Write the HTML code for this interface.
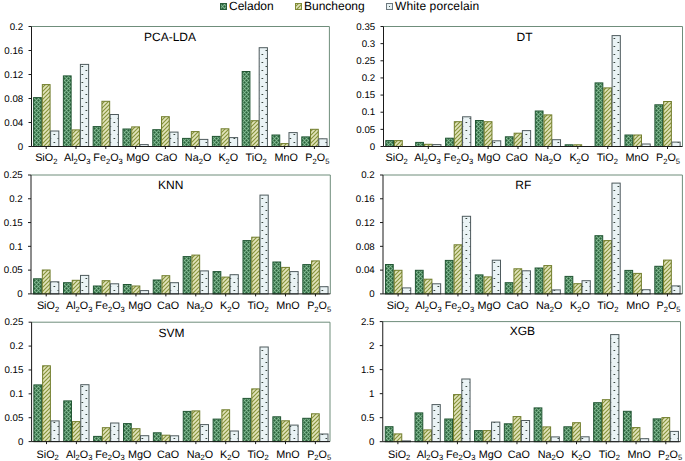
<!DOCTYPE html>
<html><head><meta charset="utf-8"><title>Chart</title>
<style>html,body{margin:0;padding:0;background:#fff;width:685px;height:461px;overflow:hidden}
svg{display:block;font-family:"Liberation Sans",sans-serif}</style></head>
<body>
<svg width="685" height="461" viewBox="0 0 685 461" font-family="Liberation Sans, sans-serif" text-rendering="geometricPrecision">

<defs>
 <pattern id="pc" patternUnits="userSpaceOnUse" width="4" height="4"><rect x="0" y="0" width="1" height="1" fill="#88c098"/><rect x="1" y="0" width="1" height="1" fill="#4e865f"/><rect x="2" y="0" width="1" height="1" fill="#29613a"/><rect x="3" y="0" width="1" height="1" fill="#4e865f"/><rect x="0" y="1" width="1" height="1" fill="#4e865f"/><rect x="1" y="1" width="1" height="1" fill="#74ac84"/><rect x="2" y="1" width="1" height="1" fill="#4e865f"/><rect x="3" y="1" width="1" height="1" fill="#74ac84"/><rect x="0" y="2" width="1" height="1" fill="#29613a"/><rect x="1" y="2" width="1" height="1" fill="#4e865f"/><rect x="2" y="2" width="1" height="1" fill="#88c098"/><rect x="3" y="2" width="1" height="1" fill="#4e865f"/><rect x="0" y="3" width="1" height="1" fill="#4e865f"/><rect x="1" y="3" width="1" height="1" fill="#74ac84"/><rect x="2" y="3" width="1" height="1" fill="#4e865f"/><rect x="3" y="3" width="1" height="1" fill="#74ac84"/></pattern>
 <pattern id="pb" patternUnits="userSpaceOnUse" width="4" height="4">
  <rect width="4" height="4" fill="#869339"/>
  <path d="M-1,1 L1,-1 M0,4 L4,0 M3,5 L5,3" stroke="#e2e4bc" stroke-width="1.7"/>
 </pattern>
 <pattern id="pw" patternUnits="userSpaceOnUse" width="8" height="8">
  <rect width="8" height="8" fill="#eaf3f5"/>
  <rect x="1.5" y="2" width="1.7" height="1" fill="#3a463f"/>
  <rect x="5.5" y="6" width="1.7" height="1" fill="#3a463f"/>
 </pattern>
</defs>

<rect width="685" height="461" fill="#ffffff"/>
<rect x="220.5" y="3.5" width="6" height="6" fill="url(#pc)" stroke="#2a5e3a" stroke-width="1"/>
<text x="229" y="9.6" font-size="12" fill="#000000">Celadon</text>
<rect x="295.5" y="3.5" width="6" height="6" fill="url(#pb)" stroke="#7f8a35" stroke-width="1"/>
<text x="304" y="9.6" font-size="12" fill="#000000">Buncheong</text>
<rect x="386.5" y="3.5" width="6" height="6" fill="#e7f1f3" stroke="#6d787e" stroke-width="1"/>
<rect x="389" y="6" width="1" height="1" fill="#4a5650"/>
<text x="395" y="9.6" font-size="12" letter-spacing="0.1" fill="#000000">White porcelain</text>
<path d="M31.5,26.5 H329.4 V146.5" fill="none" stroke="#6f8d7b" stroke-width="1"/>
<rect x="33.58" y="97.6" width="7.75" height="48.9" fill="url(#pc)" stroke="#225634" stroke-width="1"/>
<rect x="42.33" y="84.6" width="7.75" height="61.9" fill="url(#pb)" stroke="#717d2c" stroke-width="1"/>
<rect x="50.58" y="131" width="8.25" height="15.5" fill="url(#pw)" stroke="#4e5a5d" stroke-width="1"/>
<rect x="63.38" y="75.9" width="7.75" height="70.6" fill="url(#pc)" stroke="#225634" stroke-width="1"/>
<rect x="72.12" y="129.9" width="7.75" height="16.6" fill="url(#pb)" stroke="#717d2c" stroke-width="1"/>
<rect x="80.38" y="64.4" width="8.25" height="82.1" fill="url(#pw)" stroke="#4e5a5d" stroke-width="1"/>
<rect x="93.17" y="126.6" width="7.75" height="19.9" fill="url(#pc)" stroke="#225634" stroke-width="1"/>
<rect x="101.92" y="101.3" width="7.75" height="45.2" fill="url(#pb)" stroke="#717d2c" stroke-width="1"/>
<rect x="110.17" y="114.5" width="8.25" height="32" fill="url(#pw)" stroke="#4e5a5d" stroke-width="1"/>
<rect x="122.97" y="129" width="7.75" height="17.5" fill="url(#pc)" stroke="#225634" stroke-width="1"/>
<rect x="131.72" y="126.9" width="7.75" height="19.6" fill="url(#pb)" stroke="#717d2c" stroke-width="1"/>
<rect x="139.97" y="144.6" width="8.25" height="1.9" fill="url(#pw)" stroke="#4e5a5d" stroke-width="1"/>
<rect x="152.78" y="129.7" width="7.75" height="16.8" fill="url(#pc)" stroke="#225634" stroke-width="1"/>
<rect x="161.53" y="116.7" width="7.75" height="29.8" fill="url(#pb)" stroke="#717d2c" stroke-width="1"/>
<rect x="169.78" y="132.1" width="8.25" height="14.4" fill="url(#pw)" stroke="#4e5a5d" stroke-width="1"/>
<rect x="182.58" y="138.4" width="7.75" height="8.1" fill="url(#pc)" stroke="#225634" stroke-width="1"/>
<rect x="191.33" y="131.6" width="7.75" height="14.9" fill="url(#pb)" stroke="#717d2c" stroke-width="1"/>
<rect x="199.58" y="139.4" width="8.25" height="7.1" fill="url(#pw)" stroke="#4e5a5d" stroke-width="1"/>
<rect x="212.38" y="136.4" width="7.75" height="10.1" fill="url(#pc)" stroke="#225634" stroke-width="1"/>
<rect x="221.13" y="128.8" width="7.75" height="17.7" fill="url(#pb)" stroke="#717d2c" stroke-width="1"/>
<rect x="229.38" y="137.6" width="8.25" height="8.9" fill="url(#pw)" stroke="#4e5a5d" stroke-width="1"/>
<rect x="242.18" y="71.5" width="7.75" height="75" fill="url(#pc)" stroke="#225634" stroke-width="1"/>
<rect x="250.93" y="120.7" width="7.75" height="25.8" fill="url(#pb)" stroke="#717d2c" stroke-width="1"/>
<rect x="259.18" y="47.7" width="8.25" height="98.8" fill="url(#pw)" stroke="#4e5a5d" stroke-width="1"/>
<rect x="271.98" y="135" width="7.75" height="11.5" fill="url(#pc)" stroke="#225634" stroke-width="1"/>
<rect x="280.73" y="143.6" width="7.75" height="2.9" fill="url(#pb)" stroke="#717d2c" stroke-width="1"/>
<rect x="288.98" y="132.6" width="8.25" height="13.9" fill="url(#pw)" stroke="#4e5a5d" stroke-width="1"/>
<rect x="301.78" y="136.9" width="7.75" height="9.6" fill="url(#pc)" stroke="#225634" stroke-width="1"/>
<rect x="310.53" y="129.3" width="7.75" height="17.2" fill="url(#pb)" stroke="#717d2c" stroke-width="1"/>
<rect x="318.78" y="138.8" width="8.25" height="7.7" fill="url(#pw)" stroke="#4e5a5d" stroke-width="1"/>
<path d="M31.5,26.5 V146.5 H329.4" fill="none" stroke="#1a1a1a" stroke-width="1"/>
<path d="M28.5,146.5 H31.5" stroke="#1a1a1a" stroke-width="1"/>
<text transform="translate(23.2,149.7) scale(1,1)" font-size="9.7" text-anchor="end" fill="#000000">0</text>
<path d="M28.5,122.5 H31.5" stroke="#1a1a1a" stroke-width="1"/>
<text transform="translate(23.2,125.7) scale(1,1)" font-size="9.7" text-anchor="end" fill="#000000">0.04</text>
<path d="M28.5,98.5 H31.5" stroke="#1a1a1a" stroke-width="1"/>
<text transform="translate(23.2,101.7) scale(1,1)" font-size="9.7" text-anchor="end" fill="#000000">0.08</text>
<path d="M28.5,74.5 H31.5" stroke="#1a1a1a" stroke-width="1"/>
<text transform="translate(23.2,77.7) scale(1,1)" font-size="9.7" text-anchor="end" fill="#000000">0.12</text>
<path d="M28.5,50.5 H31.5" stroke="#1a1a1a" stroke-width="1"/>
<text transform="translate(23.2,53.7) scale(1,1)" font-size="9.7" text-anchor="end" fill="#000000">0.16</text>
<path d="M28.5,26.5 H31.5" stroke="#1a1a1a" stroke-width="1"/>
<text transform="translate(23.2,29.7) scale(1,1)" font-size="9.7" text-anchor="end" fill="#000000">0.2</text>
<path d="M46.2,146.5 V149" stroke="#1a1a1a" stroke-width="1"/>
<text x="46.3" y="160.9" font-size="10.8" text-anchor="middle" fill="#000000"><tspan>SiO</tspan><tspan font-size="7.6" dy="2.9">2</tspan><tspan dy="-2.9"></tspan></text>
<path d="M76,146.5 V149" stroke="#1a1a1a" stroke-width="1"/>
<text x="77.25" y="160.9" font-size="10.8" text-anchor="middle" fill="#000000"><tspan>Al</tspan><tspan font-size="7.6" dy="2.9">2</tspan><tspan dy="-2.9">O</tspan><tspan font-size="7.6" dy="2.9">3</tspan></text>
<path d="M105.8,146.5 V149" stroke="#1a1a1a" stroke-width="1"/>
<text x="108.1" y="160.9" font-size="10.8" text-anchor="middle" fill="#000000"><tspan>Fe</tspan><tspan font-size="7.6" dy="2.9">2</tspan><tspan dy="-2.9">O</tspan><tspan font-size="7.6" dy="2.9">3</tspan></text>
<path d="M135.6,146.5 V149" stroke="#1a1a1a" stroke-width="1"/>
<text x="137.9" y="160.9" font-size="10.8" text-anchor="middle" fill="#000000"><tspan>MgO</tspan></text>
<path d="M165.4,146.5 V149" stroke="#1a1a1a" stroke-width="1"/>
<text x="166.3" y="160.9" font-size="10.8" text-anchor="middle" fill="#000000"><tspan>CaO</tspan></text>
<path d="M195.2,146.5 V149" stroke="#1a1a1a" stroke-width="1"/>
<text x="198.1" y="160.9" font-size="10.8" text-anchor="middle" fill="#000000"><tspan>Na</tspan><tspan font-size="7.6" dy="2.9">2</tspan><tspan dy="-2.9">O</tspan></text>
<path d="M225,146.5 V149" stroke="#1a1a1a" stroke-width="1"/>
<text x="228.3" y="160.9" font-size="10.8" text-anchor="middle" fill="#000000"><tspan>K</tspan><tspan font-size="7.6" dy="2.9">2</tspan><tspan dy="-2.9">O</tspan></text>
<path d="M254.8,146.5 V149" stroke="#1a1a1a" stroke-width="1"/>
<text x="256.2" y="160.9" font-size="10.8" text-anchor="middle" fill="#000000"><tspan>TiO</tspan><tspan font-size="7.6" dy="2.9">2</tspan></text>
<path d="M284.6,146.5 V149" stroke="#1a1a1a" stroke-width="1"/>
<text x="286.3" y="160.9" font-size="10.8" text-anchor="middle" fill="#000000"><tspan>MnO</tspan></text>
<path d="M314.4,146.5 V149" stroke="#1a1a1a" stroke-width="1"/>
<text x="317.4" y="160.9" font-size="10.8" text-anchor="middle" fill="#000000"><tspan>P</tspan><tspan font-size="7.6" dy="2.9">2</tspan><tspan dy="-2.9">O</tspan><tspan font-size="7.6" dy="2.9">5</tspan></text>
<text x="170" y="40.8" font-size="12" text-anchor="middle" fill="#000000">PCA-LDA</text>
<path d="M383.5,26.5 H682.5 V146.5" fill="none" stroke="#6f8d7b" stroke-width="1"/>
<rect x="385.77" y="140.6" width="7.75" height="5.9" fill="url(#pc)" stroke="#225634" stroke-width="1"/>
<rect x="394.52" y="140.6" width="7.75" height="5.9" fill="url(#pb)" stroke="#717d2c" stroke-width="1"/>
<rect x="415.68" y="142.4" width="7.75" height="4.1" fill="url(#pc)" stroke="#225634" stroke-width="1"/>
<rect x="424.43" y="144.3" width="7.75" height="2.2" fill="url(#pb)" stroke="#717d2c" stroke-width="1"/>
<rect x="432.68" y="144.6" width="8.25" height="1.9" fill="url(#pw)" stroke="#4e5a5d" stroke-width="1"/>
<rect x="445.57" y="138.2" width="7.75" height="8.3" fill="url(#pc)" stroke="#225634" stroke-width="1"/>
<rect x="454.32" y="121.7" width="7.75" height="24.8" fill="url(#pb)" stroke="#717d2c" stroke-width="1"/>
<rect x="462.57" y="116.8" width="8.25" height="29.7" fill="url(#pw)" stroke="#4e5a5d" stroke-width="1"/>
<rect x="475.48" y="120.5" width="7.75" height="26" fill="url(#pc)" stroke="#225634" stroke-width="1"/>
<rect x="484.23" y="121.7" width="7.75" height="24.8" fill="url(#pb)" stroke="#717d2c" stroke-width="1"/>
<rect x="492.48" y="140.8" width="8.25" height="5.7" fill="url(#pw)" stroke="#4e5a5d" stroke-width="1"/>
<rect x="505.38" y="136.8" width="7.75" height="9.7" fill="url(#pc)" stroke="#225634" stroke-width="1"/>
<rect x="514.12" y="133.2" width="7.75" height="13.3" fill="url(#pb)" stroke="#717d2c" stroke-width="1"/>
<rect x="522.38" y="130.6" width="8.25" height="15.9" fill="url(#pw)" stroke="#4e5a5d" stroke-width="1"/>
<rect x="535.28" y="111" width="7.75" height="35.5" fill="url(#pc)" stroke="#225634" stroke-width="1"/>
<rect x="544.03" y="114.9" width="7.75" height="31.6" fill="url(#pb)" stroke="#717d2c" stroke-width="1"/>
<rect x="552.28" y="139.7" width="8.25" height="6.8" fill="url(#pw)" stroke="#4e5a5d" stroke-width="1"/>
<rect x="565.17" y="144.8" width="7.75" height="1.7" fill="url(#pc)" stroke="#225634" stroke-width="1"/>
<rect x="573.92" y="144.8" width="7.75" height="1.7" fill="url(#pb)" stroke="#717d2c" stroke-width="1"/>
<rect x="595.08" y="82.9" width="7.75" height="63.6" fill="url(#pc)" stroke="#225634" stroke-width="1"/>
<rect x="603.83" y="87.9" width="7.75" height="58.6" fill="url(#pb)" stroke="#717d2c" stroke-width="1"/>
<rect x="612.08" y="35.6" width="8.25" height="110.9" fill="url(#pw)" stroke="#4e5a5d" stroke-width="1"/>
<rect x="624.98" y="135" width="7.75" height="11.5" fill="url(#pc)" stroke="#225634" stroke-width="1"/>
<rect x="633.73" y="135" width="7.75" height="11.5" fill="url(#pb)" stroke="#717d2c" stroke-width="1"/>
<rect x="641.98" y="144" width="8.25" height="2.5" fill="url(#pw)" stroke="#4e5a5d" stroke-width="1"/>
<rect x="654.88" y="104.8" width="7.75" height="41.7" fill="url(#pc)" stroke="#225634" stroke-width="1"/>
<rect x="663.62" y="101.5" width="7.75" height="45" fill="url(#pb)" stroke="#717d2c" stroke-width="1"/>
<rect x="671.88" y="142.1" width="8.25" height="4.4" fill="url(#pw)" stroke="#4e5a5d" stroke-width="1"/>
<path d="M383.5,26.5 V146.5 H682.5" fill="none" stroke="#1a1a1a" stroke-width="1"/>
<path d="M380.5,146.5 H383.5" stroke="#1a1a1a" stroke-width="1"/>
<text transform="translate(375.2,149.7) scale(1,1)" font-size="9.7" text-anchor="end" fill="#000000">0</text>
<path d="M380.5,129.36 H383.5" stroke="#1a1a1a" stroke-width="1"/>
<text transform="translate(375.2,132.56) scale(1,1)" font-size="9.7" text-anchor="end" fill="#000000">0.05</text>
<path d="M380.5,112.21 H383.5" stroke="#1a1a1a" stroke-width="1"/>
<text transform="translate(375.2,115.41) scale(1,1)" font-size="9.7" text-anchor="end" fill="#000000">0.1</text>
<path d="M380.5,95.07 H383.5" stroke="#1a1a1a" stroke-width="1"/>
<text transform="translate(375.2,98.27) scale(1,1)" font-size="9.7" text-anchor="end" fill="#000000">0.15</text>
<path d="M380.5,77.93 H383.5" stroke="#1a1a1a" stroke-width="1"/>
<text transform="translate(375.2,81.13) scale(1,1)" font-size="9.7" text-anchor="end" fill="#000000">0.2</text>
<path d="M380.5,60.79 H383.5" stroke="#1a1a1a" stroke-width="1"/>
<text transform="translate(375.2,63.99) scale(1,1)" font-size="9.7" text-anchor="end" fill="#000000">0.25</text>
<path d="M380.5,43.64 H383.5" stroke="#1a1a1a" stroke-width="1"/>
<text transform="translate(375.2,46.84) scale(1,1)" font-size="9.7" text-anchor="end" fill="#000000">0.3</text>
<path d="M380.5,26.5 H383.5" stroke="#1a1a1a" stroke-width="1"/>
<text transform="translate(375.2,29.7) scale(1,1)" font-size="9.7" text-anchor="end" fill="#000000">0.35</text>
<path d="M398.4,146.5 V149" stroke="#1a1a1a" stroke-width="1"/>
<text x="396.7" y="160.9" font-size="10.8" text-anchor="middle" fill="#000000"><tspan>SiO</tspan><tspan font-size="7.6" dy="2.9">2</tspan><tspan dy="-2.9"></tspan></text>
<path d="M428.3,146.5 V149" stroke="#1a1a1a" stroke-width="1"/>
<text x="427.5" y="160.9" font-size="10.8" text-anchor="middle" fill="#000000"><tspan>Al</tspan><tspan font-size="7.6" dy="2.9">2</tspan><tspan dy="-2.9">O</tspan><tspan font-size="7.6" dy="2.9">3</tspan></text>
<path d="M458.2,146.5 V149" stroke="#1a1a1a" stroke-width="1"/>
<text x="458.6" y="160.9" font-size="10.8" text-anchor="middle" fill="#000000"><tspan>Fe</tspan><tspan font-size="7.6" dy="2.9">2</tspan><tspan dy="-2.9">O</tspan><tspan font-size="7.6" dy="2.9">3</tspan></text>
<path d="M488.1,146.5 V149" stroke="#1a1a1a" stroke-width="1"/>
<text x="489.05" y="160.9" font-size="10.8" text-anchor="middle" fill="#000000"><tspan>MgO</tspan></text>
<path d="M518,146.5 V149" stroke="#1a1a1a" stroke-width="1"/>
<text x="516.9" y="160.9" font-size="10.8" text-anchor="middle" fill="#000000"><tspan>CaO</tspan></text>
<path d="M547.9,146.5 V149" stroke="#1a1a1a" stroke-width="1"/>
<text x="548.1" y="160.9" font-size="10.8" text-anchor="middle" fill="#000000"><tspan>Na</tspan><tspan font-size="7.6" dy="2.9">2</tspan><tspan dy="-2.9">O</tspan></text>
<path d="M577.8,146.5 V149" stroke="#1a1a1a" stroke-width="1"/>
<text x="579.3" y="160.9" font-size="10.8" text-anchor="middle" fill="#000000"><tspan>K</tspan><tspan font-size="7.6" dy="2.9">2</tspan><tspan dy="-2.9">O</tspan></text>
<path d="M607.7,146.5 V149" stroke="#1a1a1a" stroke-width="1"/>
<text x="607.3" y="160.9" font-size="10.8" text-anchor="middle" fill="#000000"><tspan>TiO</tspan><tspan font-size="7.6" dy="2.9">2</tspan></text>
<path d="M637.6,146.5 V149" stroke="#1a1a1a" stroke-width="1"/>
<text x="637.2" y="160.9" font-size="10.8" text-anchor="middle" fill="#000000"><tspan>MnO</tspan></text>
<path d="M667.5,146.5 V149" stroke="#1a1a1a" stroke-width="1"/>
<text x="668" y="160.9" font-size="10.8" text-anchor="middle" fill="#000000"><tspan>P</tspan><tspan font-size="7.6" dy="2.9">2</tspan><tspan dy="-2.9">O</tspan><tspan font-size="7.6" dy="2.9">5</tspan></text>
<text x="524.5" y="40.8" font-size="12" text-anchor="middle" fill="#000000">DT</text>
<path d="M31,175 H330.3 V293.9" fill="none" stroke="#6f8d7b" stroke-width="1"/>
<rect x="33.58" y="278.8" width="7.75" height="15.1" fill="url(#pc)" stroke="#225634" stroke-width="1"/>
<rect x="42.33" y="270" width="7.75" height="23.9" fill="url(#pb)" stroke="#717d2c" stroke-width="1"/>
<rect x="50.58" y="281.8" width="8.25" height="12.1" fill="url(#pw)" stroke="#4e5a5d" stroke-width="1"/>
<rect x="63.5" y="282.7" width="7.75" height="11.2" fill="url(#pc)" stroke="#225634" stroke-width="1"/>
<rect x="72.25" y="280.3" width="7.75" height="13.6" fill="url(#pb)" stroke="#717d2c" stroke-width="1"/>
<rect x="80.5" y="275.4" width="8.25" height="18.5" fill="url(#pw)" stroke="#4e5a5d" stroke-width="1"/>
<rect x="93.41" y="286" width="7.75" height="7.9" fill="url(#pc)" stroke="#225634" stroke-width="1"/>
<rect x="102.16" y="280.7" width="7.75" height="13.2" fill="url(#pb)" stroke="#717d2c" stroke-width="1"/>
<rect x="110.41" y="283.8" width="8.25" height="10.1" fill="url(#pw)" stroke="#4e5a5d" stroke-width="1"/>
<rect x="123.33" y="284.5" width="7.75" height="9.4" fill="url(#pc)" stroke="#225634" stroke-width="1"/>
<rect x="132.08" y="286" width="7.75" height="7.9" fill="url(#pb)" stroke="#717d2c" stroke-width="1"/>
<rect x="140.33" y="290.6" width="8.25" height="3.3" fill="url(#pw)" stroke="#4e5a5d" stroke-width="1"/>
<rect x="153.24" y="280" width="7.75" height="13.9" fill="url(#pc)" stroke="#225634" stroke-width="1"/>
<rect x="161.99" y="275.7" width="7.75" height="18.2" fill="url(#pb)" stroke="#717d2c" stroke-width="1"/>
<rect x="170.24" y="282.7" width="8.25" height="11.2" fill="url(#pw)" stroke="#4e5a5d" stroke-width="1"/>
<rect x="183.16" y="256.6" width="7.75" height="37.3" fill="url(#pc)" stroke="#225634" stroke-width="1"/>
<rect x="191.91" y="255.1" width="7.75" height="38.8" fill="url(#pb)" stroke="#717d2c" stroke-width="1"/>
<rect x="200.16" y="270.9" width="8.25" height="23" fill="url(#pw)" stroke="#4e5a5d" stroke-width="1"/>
<rect x="213.07" y="271.6" width="7.75" height="22.3" fill="url(#pc)" stroke="#225634" stroke-width="1"/>
<rect x="221.82" y="277.1" width="7.75" height="16.8" fill="url(#pb)" stroke="#717d2c" stroke-width="1"/>
<rect x="230.07" y="274.7" width="8.25" height="19.2" fill="url(#pw)" stroke="#4e5a5d" stroke-width="1"/>
<rect x="242.99" y="240.6" width="7.75" height="53.3" fill="url(#pc)" stroke="#225634" stroke-width="1"/>
<rect x="251.74" y="237.2" width="7.75" height="56.7" fill="url(#pb)" stroke="#717d2c" stroke-width="1"/>
<rect x="259.99" y="195.1" width="8.25" height="98.8" fill="url(#pw)" stroke="#4e5a5d" stroke-width="1"/>
<rect x="272.9" y="262" width="7.75" height="31.9" fill="url(#pc)" stroke="#225634" stroke-width="1"/>
<rect x="281.65" y="267.4" width="7.75" height="26.5" fill="url(#pb)" stroke="#717d2c" stroke-width="1"/>
<rect x="289.9" y="271.6" width="8.25" height="22.3" fill="url(#pw)" stroke="#4e5a5d" stroke-width="1"/>
<rect x="302.82" y="264.6" width="7.75" height="29.3" fill="url(#pc)" stroke="#225634" stroke-width="1"/>
<rect x="311.57" y="260.9" width="7.75" height="33" fill="url(#pb)" stroke="#717d2c" stroke-width="1"/>
<rect x="319.82" y="286.7" width="8.25" height="7.2" fill="url(#pw)" stroke="#4e5a5d" stroke-width="1"/>
<path d="M31,175 V293.9 H330.3" fill="none" stroke="#1a1a1a" stroke-width="1"/>
<path d="M28,293.9 H31" stroke="#1a1a1a" stroke-width="1"/>
<text transform="translate(22.7,297.1) scale(1,1)" font-size="9.7" text-anchor="end" fill="#000000">0</text>
<path d="M28,270.12 H31" stroke="#1a1a1a" stroke-width="1"/>
<text transform="translate(22.7,273.32) scale(1,1)" font-size="9.7" text-anchor="end" fill="#000000">0.05</text>
<path d="M28,246.34 H31" stroke="#1a1a1a" stroke-width="1"/>
<text transform="translate(22.7,249.54) scale(1,1)" font-size="9.7" text-anchor="end" fill="#000000">0.1</text>
<path d="M28,222.56 H31" stroke="#1a1a1a" stroke-width="1"/>
<text transform="translate(22.7,225.76) scale(1,1)" font-size="9.7" text-anchor="end" fill="#000000">0.15</text>
<path d="M28,198.78 H31" stroke="#1a1a1a" stroke-width="1"/>
<text transform="translate(22.7,201.98) scale(1,1)" font-size="9.7" text-anchor="end" fill="#000000">0.2</text>
<path d="M28,175 H31" stroke="#1a1a1a" stroke-width="1"/>
<text transform="translate(22.7,178.2) scale(1,1)" font-size="9.7" text-anchor="end" fill="#000000">0.25</text>
<path d="M46.21,293.9 V296.4" stroke="#1a1a1a" stroke-width="1"/>
<text x="48" y="308.9" font-size="10.8" text-anchor="middle" fill="#000000"><tspan>SiO</tspan><tspan font-size="7.6" dy="2.9">2</tspan><tspan dy="-2.9"></tspan></text>
<path d="M76.12,293.9 V296.4" stroke="#1a1a1a" stroke-width="1"/>
<text x="79.25" y="308.9" font-size="10.8" text-anchor="middle" fill="#000000"><tspan>Al</tspan><tspan font-size="7.6" dy="2.9">2</tspan><tspan dy="-2.9">O</tspan><tspan font-size="7.6" dy="2.9">3</tspan></text>
<path d="M106.04,293.9 V296.4" stroke="#1a1a1a" stroke-width="1"/>
<text x="110.1" y="308.9" font-size="10.8" text-anchor="middle" fill="#000000"><tspan>Fe</tspan><tspan font-size="7.6" dy="2.9">2</tspan><tspan dy="-2.9">O</tspan><tspan font-size="7.6" dy="2.9">3</tspan></text>
<path d="M135.95,293.9 V296.4" stroke="#1a1a1a" stroke-width="1"/>
<text x="139.9" y="308.9" font-size="10.8" text-anchor="middle" fill="#000000"><tspan>MgO</tspan></text>
<path d="M165.87,293.9 V296.4" stroke="#1a1a1a" stroke-width="1"/>
<text x="168" y="308.9" font-size="10.8" text-anchor="middle" fill="#000000"><tspan>CaO</tspan></text>
<path d="M195.78,293.9 V296.4" stroke="#1a1a1a" stroke-width="1"/>
<text x="199.7" y="308.9" font-size="10.8" text-anchor="middle" fill="#000000"><tspan>Na</tspan><tspan font-size="7.6" dy="2.9">2</tspan><tspan dy="-2.9">O</tspan></text>
<path d="M225.7,293.9 V296.4" stroke="#1a1a1a" stroke-width="1"/>
<text x="229.95" y="308.9" font-size="10.8" text-anchor="middle" fill="#000000"><tspan>K</tspan><tspan font-size="7.6" dy="2.9">2</tspan><tspan dy="-2.9">O</tspan></text>
<path d="M255.61,293.9 V296.4" stroke="#1a1a1a" stroke-width="1"/>
<text x="258" y="308.9" font-size="10.8" text-anchor="middle" fill="#000000"><tspan>TiO</tspan><tspan font-size="7.6" dy="2.9">2</tspan></text>
<path d="M285.53,293.9 V296.4" stroke="#1a1a1a" stroke-width="1"/>
<text x="288" y="308.9" font-size="10.8" text-anchor="middle" fill="#000000"><tspan>MnO</tspan></text>
<path d="M315.44,293.9 V296.4" stroke="#1a1a1a" stroke-width="1"/>
<text x="319.2" y="308.9" font-size="10.8" text-anchor="middle" fill="#000000"><tspan>P</tspan><tspan font-size="7.6" dy="2.9">2</tspan><tspan dy="-2.9">O</tspan><tspan font-size="7.6" dy="2.9">5</tspan></text>
<text x="170.7" y="188.5" font-size="12" text-anchor="middle" fill="#000000">KNN</text>
<path d="M383,175 H682.4 V293.9" fill="none" stroke="#6f8d7b" stroke-width="1"/>
<rect x="385.49" y="264.5" width="7.75" height="29.4" fill="url(#pc)" stroke="#225634" stroke-width="1"/>
<rect x="394.24" y="270.3" width="7.75" height="23.6" fill="url(#pb)" stroke="#717d2c" stroke-width="1"/>
<rect x="402.49" y="287.9" width="8.25" height="6" fill="url(#pw)" stroke="#4e5a5d" stroke-width="1"/>
<rect x="415.41" y="270.3" width="7.75" height="23.6" fill="url(#pc)" stroke="#225634" stroke-width="1"/>
<rect x="424.16" y="279.2" width="7.75" height="14.7" fill="url(#pb)" stroke="#717d2c" stroke-width="1"/>
<rect x="432.41" y="283.8" width="8.25" height="10.1" fill="url(#pw)" stroke="#4e5a5d" stroke-width="1"/>
<rect x="445.34" y="260.4" width="7.75" height="33.5" fill="url(#pc)" stroke="#225634" stroke-width="1"/>
<rect x="454.09" y="244.8" width="7.75" height="49.1" fill="url(#pb)" stroke="#717d2c" stroke-width="1"/>
<rect x="462.34" y="216.3" width="8.25" height="77.6" fill="url(#pw)" stroke="#4e5a5d" stroke-width="1"/>
<rect x="475.26" y="274.9" width="7.75" height="19" fill="url(#pc)" stroke="#225634" stroke-width="1"/>
<rect x="484.01" y="276.9" width="7.75" height="17" fill="url(#pb)" stroke="#717d2c" stroke-width="1"/>
<rect x="492.26" y="260.2" width="8.25" height="33.7" fill="url(#pw)" stroke="#4e5a5d" stroke-width="1"/>
<rect x="505.19" y="282.7" width="7.75" height="11.2" fill="url(#pc)" stroke="#225634" stroke-width="1"/>
<rect x="513.94" y="268.8" width="7.75" height="25.1" fill="url(#pb)" stroke="#717d2c" stroke-width="1"/>
<rect x="522.19" y="270.8" width="8.25" height="23.1" fill="url(#pw)" stroke="#4e5a5d" stroke-width="1"/>
<rect x="535.11" y="268" width="7.75" height="25.9" fill="url(#pc)" stroke="#225634" stroke-width="1"/>
<rect x="543.86" y="265.6" width="7.75" height="28.3" fill="url(#pb)" stroke="#717d2c" stroke-width="1"/>
<rect x="552.11" y="289.9" width="8.25" height="4" fill="url(#pw)" stroke="#4e5a5d" stroke-width="1"/>
<rect x="565.04" y="276.4" width="7.75" height="17.5" fill="url(#pc)" stroke="#225634" stroke-width="1"/>
<rect x="573.79" y="283.7" width="7.75" height="10.2" fill="url(#pb)" stroke="#717d2c" stroke-width="1"/>
<rect x="582.04" y="280.7" width="8.25" height="13.2" fill="url(#pw)" stroke="#4e5a5d" stroke-width="1"/>
<rect x="594.96" y="235.7" width="7.75" height="58.2" fill="url(#pc)" stroke="#225634" stroke-width="1"/>
<rect x="603.71" y="240.6" width="7.75" height="53.3" fill="url(#pb)" stroke="#717d2c" stroke-width="1"/>
<rect x="611.96" y="183.1" width="8.25" height="110.8" fill="url(#pw)" stroke="#4e5a5d" stroke-width="1"/>
<rect x="624.89" y="270.4" width="7.75" height="23.5" fill="url(#pc)" stroke="#225634" stroke-width="1"/>
<rect x="633.64" y="273.4" width="7.75" height="20.5" fill="url(#pb)" stroke="#717d2c" stroke-width="1"/>
<rect x="641.89" y="289.7" width="8.25" height="4.2" fill="url(#pw)" stroke="#4e5a5d" stroke-width="1"/>
<rect x="654.81" y="266.3" width="7.75" height="27.6" fill="url(#pc)" stroke="#225634" stroke-width="1"/>
<rect x="663.56" y="260.1" width="7.75" height="33.8" fill="url(#pb)" stroke="#717d2c" stroke-width="1"/>
<rect x="671.81" y="285.9" width="8.25" height="8" fill="url(#pw)" stroke="#4e5a5d" stroke-width="1"/>
<path d="M383,175 V293.9 H682.4" fill="none" stroke="#1a1a1a" stroke-width="1"/>
<path d="M380,293.9 H383" stroke="#1a1a1a" stroke-width="1"/>
<text transform="translate(374.7,297.1) scale(1,1)" font-size="9.7" text-anchor="end" fill="#000000">0</text>
<path d="M380,270.12 H383" stroke="#1a1a1a" stroke-width="1"/>
<text transform="translate(374.7,273.32) scale(1,1)" font-size="9.7" text-anchor="end" fill="#000000">0.04</text>
<path d="M380,246.34 H383" stroke="#1a1a1a" stroke-width="1"/>
<text transform="translate(374.7,249.54) scale(1,1)" font-size="9.7" text-anchor="end" fill="#000000">0.08</text>
<path d="M380,222.56 H383" stroke="#1a1a1a" stroke-width="1"/>
<text transform="translate(374.7,225.76) scale(1,1)" font-size="9.7" text-anchor="end" fill="#000000">0.12</text>
<path d="M380,198.78 H383" stroke="#1a1a1a" stroke-width="1"/>
<text transform="translate(374.7,201.98) scale(1,1)" font-size="9.7" text-anchor="end" fill="#000000">0.16</text>
<path d="M380,175 H383" stroke="#1a1a1a" stroke-width="1"/>
<text transform="translate(374.7,178.2) scale(1,1)" font-size="9.7" text-anchor="end" fill="#000000">0.2</text>
<path d="M398.11,293.9 V296.4" stroke="#1a1a1a" stroke-width="1"/>
<text x="397.85" y="308.9" font-size="10.8" text-anchor="middle" fill="#000000"><tspan>SiO</tspan><tspan font-size="7.6" dy="2.9">2</tspan><tspan dy="-2.9"></tspan></text>
<path d="M428.04,293.9 V296.4" stroke="#1a1a1a" stroke-width="1"/>
<text x="428.5" y="308.9" font-size="10.8" text-anchor="middle" fill="#000000"><tspan>Al</tspan><tspan font-size="7.6" dy="2.9">2</tspan><tspan dy="-2.9">O</tspan><tspan font-size="7.6" dy="2.9">3</tspan></text>
<path d="M457.96,293.9 V296.4" stroke="#1a1a1a" stroke-width="1"/>
<text x="459.4" y="308.9" font-size="10.8" text-anchor="middle" fill="#000000"><tspan>Fe</tspan><tspan font-size="7.6" dy="2.9">2</tspan><tspan dy="-2.9">O</tspan><tspan font-size="7.6" dy="2.9">3</tspan></text>
<path d="M487.89,293.9 V296.4" stroke="#1a1a1a" stroke-width="1"/>
<text x="489.25" y="308.9" font-size="10.8" text-anchor="middle" fill="#000000"><tspan>MgO</tspan></text>
<path d="M517.81,293.9 V296.4" stroke="#1a1a1a" stroke-width="1"/>
<text x="517.6" y="308.9" font-size="10.8" text-anchor="middle" fill="#000000"><tspan>CaO</tspan></text>
<path d="M547.74,293.9 V296.4" stroke="#1a1a1a" stroke-width="1"/>
<text x="549.25" y="308.9" font-size="10.8" text-anchor="middle" fill="#000000"><tspan>Na</tspan><tspan font-size="7.6" dy="2.9">2</tspan><tspan dy="-2.9">O</tspan></text>
<path d="M577.66,293.9 V296.4" stroke="#1a1a1a" stroke-width="1"/>
<text x="580" y="308.9" font-size="10.8" text-anchor="middle" fill="#000000"><tspan>K</tspan><tspan font-size="7.6" dy="2.9">2</tspan><tspan dy="-2.9">O</tspan></text>
<path d="M607.59,293.9 V296.4" stroke="#1a1a1a" stroke-width="1"/>
<text x="607.85" y="308.9" font-size="10.8" text-anchor="middle" fill="#000000"><tspan>TiO</tspan><tspan font-size="7.6" dy="2.9">2</tspan></text>
<path d="M637.51,293.9 V296.4" stroke="#1a1a1a" stroke-width="1"/>
<text x="637.85" y="308.9" font-size="10.8" text-anchor="middle" fill="#000000"><tspan>MnO</tspan></text>
<path d="M667.44,293.9 V296.4" stroke="#1a1a1a" stroke-width="1"/>
<text x="668.5" y="308.9" font-size="10.8" text-anchor="middle" fill="#000000"><tspan>P</tspan><tspan font-size="7.6" dy="2.9">2</tspan><tspan dy="-2.9">O</tspan><tspan font-size="7.6" dy="2.9">5</tspan></text>
<text x="523.3" y="188.6" font-size="12" text-anchor="middle" fill="#000000">RF</text>
<path d="M31.6,322.2 H330 V441.6" fill="none" stroke="#6f8d7b" stroke-width="1"/>
<rect x="33.88" y="384.9" width="7.75" height="56.7" fill="url(#pc)" stroke="#225634" stroke-width="1"/>
<rect x="42.63" y="365.8" width="7.75" height="75.8" fill="url(#pb)" stroke="#717d2c" stroke-width="1"/>
<rect x="50.88" y="420.9" width="8.25" height="20.7" fill="url(#pw)" stroke="#4e5a5d" stroke-width="1"/>
<rect x="63.75" y="400.9" width="7.75" height="40.7" fill="url(#pc)" stroke="#225634" stroke-width="1"/>
<rect x="72.5" y="421.6" width="7.75" height="20" fill="url(#pb)" stroke="#717d2c" stroke-width="1"/>
<rect x="80.75" y="384.7" width="8.25" height="56.9" fill="url(#pw)" stroke="#4e5a5d" stroke-width="1"/>
<rect x="93.63" y="436.4" width="7.75" height="5.2" fill="url(#pc)" stroke="#225634" stroke-width="1"/>
<rect x="102.38" y="427.7" width="7.75" height="13.9" fill="url(#pb)" stroke="#717d2c" stroke-width="1"/>
<rect x="110.63" y="423" width="8.25" height="18.6" fill="url(#pw)" stroke="#4e5a5d" stroke-width="1"/>
<rect x="123.5" y="423.6" width="7.75" height="18" fill="url(#pc)" stroke="#225634" stroke-width="1"/>
<rect x="132.25" y="428.7" width="7.75" height="12.9" fill="url(#pb)" stroke="#717d2c" stroke-width="1"/>
<rect x="140.5" y="435.7" width="8.25" height="5.9" fill="url(#pw)" stroke="#4e5a5d" stroke-width="1"/>
<rect x="153.37" y="432.8" width="7.75" height="8.8" fill="url(#pc)" stroke="#225634" stroke-width="1"/>
<rect x="162.12" y="435.2" width="7.75" height="6.4" fill="url(#pb)" stroke="#717d2c" stroke-width="1"/>
<rect x="170.37" y="435.8" width="8.25" height="5.8" fill="url(#pw)" stroke="#4e5a5d" stroke-width="1"/>
<rect x="183.25" y="411.4" width="7.75" height="30.2" fill="url(#pc)" stroke="#225634" stroke-width="1"/>
<rect x="192" y="410.9" width="7.75" height="30.7" fill="url(#pb)" stroke="#717d2c" stroke-width="1"/>
<rect x="200.25" y="424.6" width="8.25" height="17" fill="url(#pw)" stroke="#4e5a5d" stroke-width="1"/>
<rect x="213.12" y="419.1" width="7.75" height="22.5" fill="url(#pc)" stroke="#225634" stroke-width="1"/>
<rect x="221.87" y="409.8" width="7.75" height="31.8" fill="url(#pb)" stroke="#717d2c" stroke-width="1"/>
<rect x="230.12" y="431" width="8.25" height="10.6" fill="url(#pw)" stroke="#4e5a5d" stroke-width="1"/>
<rect x="242.99" y="398.4" width="7.75" height="43.2" fill="url(#pc)" stroke="#225634" stroke-width="1"/>
<rect x="251.74" y="388.9" width="7.75" height="52.7" fill="url(#pb)" stroke="#717d2c" stroke-width="1"/>
<rect x="259.99" y="347" width="8.25" height="94.6" fill="url(#pw)" stroke="#4e5a5d" stroke-width="1"/>
<rect x="272.87" y="416.8" width="7.75" height="24.8" fill="url(#pc)" stroke="#225634" stroke-width="1"/>
<rect x="281.62" y="420.8" width="7.75" height="20.8" fill="url(#pb)" stroke="#717d2c" stroke-width="1"/>
<rect x="289.87" y="425.1" width="8.25" height="16.5" fill="url(#pw)" stroke="#4e5a5d" stroke-width="1"/>
<rect x="302.74" y="418.3" width="7.75" height="23.3" fill="url(#pc)" stroke="#225634" stroke-width="1"/>
<rect x="311.49" y="413.8" width="7.75" height="27.8" fill="url(#pb)" stroke="#717d2c" stroke-width="1"/>
<rect x="319.74" y="434" width="8.25" height="7.6" fill="url(#pw)" stroke="#4e5a5d" stroke-width="1"/>
<path d="M31.6,322.2 V441.6 H330" fill="none" stroke="#1a1a1a" stroke-width="1"/>
<path d="M28.6,441.6 H31.6" stroke="#1a1a1a" stroke-width="1"/>
<text transform="translate(23.3,444.8) scale(1,1)" font-size="9.7" text-anchor="end" fill="#000000">0</text>
<path d="M28.6,417.72 H31.6" stroke="#1a1a1a" stroke-width="1"/>
<text transform="translate(23.3,420.92) scale(1,1)" font-size="9.7" text-anchor="end" fill="#000000">0.05</text>
<path d="M28.6,393.84 H31.6" stroke="#1a1a1a" stroke-width="1"/>
<text transform="translate(23.3,397.04) scale(1,1)" font-size="9.7" text-anchor="end" fill="#000000">0.1</text>
<path d="M28.6,369.96 H31.6" stroke="#1a1a1a" stroke-width="1"/>
<text transform="translate(23.3,373.16) scale(1,1)" font-size="9.7" text-anchor="end" fill="#000000">0.15</text>
<path d="M28.6,346.08 H31.6" stroke="#1a1a1a" stroke-width="1"/>
<text transform="translate(23.3,349.28) scale(1,1)" font-size="9.7" text-anchor="end" fill="#000000">0.2</text>
<path d="M28.6,322.2 H31.6" stroke="#1a1a1a" stroke-width="1"/>
<text transform="translate(23.3,325.4) scale(1,1)" font-size="9.7" text-anchor="end" fill="#000000">0.25</text>
<path d="M46.51,441.6 V444.1" stroke="#1a1a1a" stroke-width="1"/>
<text x="47.7" y="457.5" font-size="10.8" text-anchor="middle" fill="#000000"><tspan>SiO</tspan><tspan font-size="7.6" dy="2.9">2</tspan><tspan dy="-2.9"></tspan></text>
<path d="M76.38,441.6 V444.1" stroke="#1a1a1a" stroke-width="1"/>
<text x="79.25" y="457.5" font-size="10.8" text-anchor="middle" fill="#000000"><tspan>Al</tspan><tspan font-size="7.6" dy="2.9">2</tspan><tspan dy="-2.9">O</tspan><tspan font-size="7.6" dy="2.9">3</tspan></text>
<path d="M106.25,441.6 V444.1" stroke="#1a1a1a" stroke-width="1"/>
<text x="109.9" y="457.5" font-size="10.8" text-anchor="middle" fill="#000000"><tspan>Fe</tspan><tspan font-size="7.6" dy="2.9">2</tspan><tspan dy="-2.9">O</tspan><tspan font-size="7.6" dy="2.9">3</tspan></text>
<path d="M136.13,441.6 V444.1" stroke="#1a1a1a" stroke-width="1"/>
<text x="139.65" y="457.5" font-size="10.8" text-anchor="middle" fill="#000000"><tspan>MgO</tspan></text>
<path d="M166,441.6 V444.1" stroke="#1a1a1a" stroke-width="1"/>
<text x="168" y="457.5" font-size="10.8" text-anchor="middle" fill="#000000"><tspan>CaO</tspan></text>
<path d="M195.87,441.6 V444.1" stroke="#1a1a1a" stroke-width="1"/>
<text x="199.95" y="457.5" font-size="10.8" text-anchor="middle" fill="#000000"><tspan>Na</tspan><tspan font-size="7.6" dy="2.9">2</tspan><tspan dy="-2.9">O</tspan></text>
<path d="M225.74,441.6 V444.1" stroke="#1a1a1a" stroke-width="1"/>
<text x="229.95" y="457.5" font-size="10.8" text-anchor="middle" fill="#000000"><tspan>K</tspan><tspan font-size="7.6" dy="2.9">2</tspan><tspan dy="-2.9">O</tspan></text>
<path d="M255.62,441.6 V444.1" stroke="#1a1a1a" stroke-width="1"/>
<text x="258" y="457.5" font-size="10.8" text-anchor="middle" fill="#000000"><tspan>TiO</tspan><tspan font-size="7.6" dy="2.9">2</tspan></text>
<path d="M285.49,441.6 V444.1" stroke="#1a1a1a" stroke-width="1"/>
<text x="288" y="457.5" font-size="10.8" text-anchor="middle" fill="#000000"><tspan>MnO</tspan></text>
<path d="M315.36,441.6 V444.1" stroke="#1a1a1a" stroke-width="1"/>
<text x="319.2" y="457.5" font-size="10.8" text-anchor="middle" fill="#000000"><tspan>P</tspan><tspan font-size="7.6" dy="2.9">2</tspan><tspan dy="-2.9">O</tspan><tspan font-size="7.6" dy="2.9">5</tspan></text>
<text x="171.5" y="336.8" font-size="12" text-anchor="middle" fill="#000000">SVM</text>
<path d="M382.75,321.6 H680.5 V441.7" fill="none" stroke="#6f8d7b" stroke-width="1"/>
<rect x="385.26" y="426.7" width="7.75" height="15" fill="url(#pc)" stroke="#225634" stroke-width="1"/>
<rect x="394.01" y="433.9" width="7.75" height="7.8" fill="url(#pb)" stroke="#717d2c" stroke-width="1"/>
<rect x="402.26" y="440.9" width="8.25" height="0.8" fill="url(#pw)" stroke="#4e5a5d" stroke-width="1"/>
<rect x="415.03" y="412.9" width="7.75" height="28.8" fill="url(#pc)" stroke="#225634" stroke-width="1"/>
<rect x="423.78" y="429.9" width="7.75" height="11.8" fill="url(#pb)" stroke="#717d2c" stroke-width="1"/>
<rect x="432.03" y="404.6" width="8.25" height="37.1" fill="url(#pw)" stroke="#4e5a5d" stroke-width="1"/>
<rect x="444.8" y="419" width="7.75" height="22.7" fill="url(#pc)" stroke="#225634" stroke-width="1"/>
<rect x="453.55" y="394.6" width="7.75" height="47.1" fill="url(#pb)" stroke="#717d2c" stroke-width="1"/>
<rect x="461.8" y="379" width="8.25" height="62.7" fill="url(#pw)" stroke="#4e5a5d" stroke-width="1"/>
<rect x="474.57" y="430.6" width="7.75" height="11.1" fill="url(#pc)" stroke="#225634" stroke-width="1"/>
<rect x="483.32" y="430.6" width="7.75" height="11.1" fill="url(#pb)" stroke="#717d2c" stroke-width="1"/>
<rect x="491.57" y="422.1" width="8.25" height="19.6" fill="url(#pw)" stroke="#4e5a5d" stroke-width="1"/>
<rect x="504.34" y="423.8" width="7.75" height="17.9" fill="url(#pc)" stroke="#225634" stroke-width="1"/>
<rect x="513.09" y="416.6" width="7.75" height="25.1" fill="url(#pb)" stroke="#717d2c" stroke-width="1"/>
<rect x="521.34" y="420.5" width="8.25" height="21.2" fill="url(#pw)" stroke="#4e5a5d" stroke-width="1"/>
<rect x="534.11" y="407.9" width="7.75" height="33.8" fill="url(#pc)" stroke="#225634" stroke-width="1"/>
<rect x="542.86" y="426.9" width="7.75" height="14.8" fill="url(#pb)" stroke="#717d2c" stroke-width="1"/>
<rect x="551.11" y="436.9" width="8.25" height="4.8" fill="url(#pw)" stroke="#4e5a5d" stroke-width="1"/>
<rect x="563.88" y="426.8" width="7.75" height="14.9" fill="url(#pc)" stroke="#225634" stroke-width="1"/>
<rect x="572.63" y="422.7" width="7.75" height="19" fill="url(#pb)" stroke="#717d2c" stroke-width="1"/>
<rect x="580.88" y="436.8" width="8.25" height="4.9" fill="url(#pw)" stroke="#4e5a5d" stroke-width="1"/>
<rect x="593.65" y="402.7" width="7.75" height="39" fill="url(#pc)" stroke="#225634" stroke-width="1"/>
<rect x="602.4" y="399.7" width="7.75" height="42" fill="url(#pb)" stroke="#717d2c" stroke-width="1"/>
<rect x="610.65" y="334.6" width="8.25" height="107.1" fill="url(#pw)" stroke="#4e5a5d" stroke-width="1"/>
<rect x="623.42" y="411.3" width="7.75" height="30.4" fill="url(#pc)" stroke="#225634" stroke-width="1"/>
<rect x="632.17" y="427.6" width="7.75" height="14.1" fill="url(#pb)" stroke="#717d2c" stroke-width="1"/>
<rect x="640.42" y="438.7" width="8.25" height="3" fill="url(#pw)" stroke="#4e5a5d" stroke-width="1"/>
<rect x="653.19" y="418.9" width="7.75" height="22.8" fill="url(#pc)" stroke="#225634" stroke-width="1"/>
<rect x="661.94" y="417.6" width="7.75" height="24.1" fill="url(#pb)" stroke="#717d2c" stroke-width="1"/>
<rect x="670.19" y="431.4" width="8.25" height="10.3" fill="url(#pw)" stroke="#4e5a5d" stroke-width="1"/>
<path d="M382.75,321.6 V441.7 H680.5" fill="none" stroke="#1a1a1a" stroke-width="1"/>
<path d="M379.75,441.7 H382.75" stroke="#1a1a1a" stroke-width="1"/>
<text transform="translate(374.45,444.9) scale(1,1)" font-size="9.7" text-anchor="end" fill="#000000">0</text>
<path d="M379.75,417.68 H382.75" stroke="#1a1a1a" stroke-width="1"/>
<text transform="translate(374.45,420.88) scale(1,1)" font-size="9.7" text-anchor="end" fill="#000000">0.5</text>
<path d="M379.75,393.66 H382.75" stroke="#1a1a1a" stroke-width="1"/>
<text transform="translate(374.45,396.86) scale(1,1)" font-size="9.7" text-anchor="end" fill="#000000">1</text>
<path d="M379.75,369.64 H382.75" stroke="#1a1a1a" stroke-width="1"/>
<text transform="translate(374.45,372.84) scale(1,1)" font-size="9.7" text-anchor="end" fill="#000000">1.5</text>
<path d="M379.75,345.62 H382.75" stroke="#1a1a1a" stroke-width="1"/>
<text transform="translate(374.45,348.82) scale(1,1)" font-size="9.7" text-anchor="end" fill="#000000">2</text>
<path d="M379.75,321.6 H382.75" stroke="#1a1a1a" stroke-width="1"/>
<text transform="translate(374.45,324.8) scale(1,1)" font-size="9.7" text-anchor="end" fill="#000000">2.5</text>
<path d="M397.88,441.7 V444.2" stroke="#1a1a1a" stroke-width="1"/>
<text x="399.2" y="457.5" font-size="10.8" text-anchor="middle" fill="#000000"><tspan>SiO</tspan><tspan font-size="7.6" dy="2.9">2</tspan><tspan dy="-2.9"></tspan></text>
<path d="M427.65,441.7 V444.2" stroke="#1a1a1a" stroke-width="1"/>
<text x="430" y="457.5" font-size="10.8" text-anchor="middle" fill="#000000"><tspan>Al</tspan><tspan font-size="7.6" dy="2.9">2</tspan><tspan dy="-2.9">O</tspan><tspan font-size="7.6" dy="2.9">3</tspan></text>
<path d="M457.43,441.7 V444.2" stroke="#1a1a1a" stroke-width="1"/>
<text x="460.7" y="457.5" font-size="10.8" text-anchor="middle" fill="#000000"><tspan>Fe</tspan><tspan font-size="7.6" dy="2.9">2</tspan><tspan dy="-2.9">O</tspan><tspan font-size="7.6" dy="2.9">3</tspan></text>
<path d="M487.19,441.7 V444.2" stroke="#1a1a1a" stroke-width="1"/>
<text x="490.55" y="457.5" font-size="10.8" text-anchor="middle" fill="#000000"><tspan>MgO</tspan></text>
<path d="M516.97,441.7 V444.2" stroke="#1a1a1a" stroke-width="1"/>
<text x="518.9" y="457.5" font-size="10.8" text-anchor="middle" fill="#000000"><tspan>CaO</tspan></text>
<path d="M546.74,441.7 V444.2" stroke="#1a1a1a" stroke-width="1"/>
<text x="550.9" y="457.5" font-size="10.8" text-anchor="middle" fill="#000000"><tspan>Na</tspan><tspan font-size="7.6" dy="2.9">2</tspan><tspan dy="-2.9">O</tspan></text>
<path d="M576.5,441.7 V444.2" stroke="#1a1a1a" stroke-width="1"/>
<text x="581.05" y="457.5" font-size="10.8" text-anchor="middle" fill="#000000"><tspan>K</tspan><tspan font-size="7.6" dy="2.9">2</tspan><tspan dy="-2.9">O</tspan></text>
<path d="M606.28,441.7 V444.2" stroke="#1a1a1a" stroke-width="1"/>
<text x="609.4" y="457.5" font-size="10.8" text-anchor="middle" fill="#000000"><tspan>TiO</tspan><tspan font-size="7.6" dy="2.9">2</tspan></text>
<path d="M636.05,441.7 V444.2" stroke="#1a1a1a" stroke-width="1"/>
<text x="639.1" y="457.5" font-size="10.8" text-anchor="middle" fill="#000000"><tspan>MnO</tspan></text>
<path d="M665.82,441.7 V444.2" stroke="#1a1a1a" stroke-width="1"/>
<text x="670.15" y="457.5" font-size="10.8" text-anchor="middle" fill="#000000"><tspan>P</tspan><tspan font-size="7.6" dy="2.9">2</tspan><tspan dy="-2.9">O</tspan><tspan font-size="7.6" dy="2.9">5</tspan></text>
<text x="522.4" y="335.1" font-size="12" text-anchor="middle" fill="#000000">XGB</text>
</svg>
</body></html>
